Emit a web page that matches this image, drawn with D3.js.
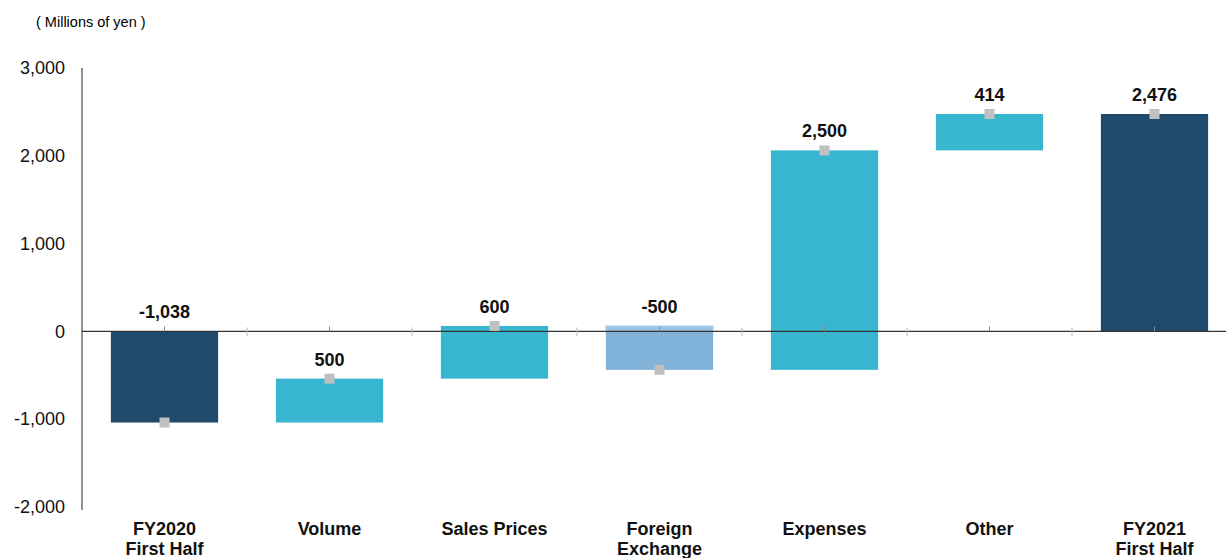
<!DOCTYPE html>
<html>
<head>
<meta charset="utf-8">
<script src="https://cdn.jsdelivr.net/npm/d3@7"></script>
<style>
  body { margin: 0; background: #fff; }
  svg { font-family: "Liberation Sans", Arial, sans-serif; display: block; }
</style>
</head>
<body>
<div id="chart"></div>
<script>
// categorias y valores (millones de yenes)
const categories = ["FY2020\nFirst Half", "Volume", "Sales Prices", "Foreign\nExchange", "Expenses", "Other", "FY2021\nFirst Half"];
const changes = [-1038, 500, 600, -500, 2500, 414, 2476];
const kinds = ["total", "step", "step", "fx", "step", "step", "total"];
const yTicks = [-2000, -1000, 0, 1000, 2000, 3000];

const width = 1226, height = 558;
const fmt = v => d3.format(",")(v).replace("\u2212", "-");

const svg = d3.select("#chart")
  .append("svg")
  .attr("width", width)
  .attr("height", height);

const x = d3.scaleBand()
  .domain(categories)
  .range([82, 1237])
  .paddingInner(0.35)
  .paddingOuter(0.175);

const y = d3.scaleLinear()
  .domain([-2000, 3000])
  .range([507, 68]);

const color = { total: "#1f4a6b", step: "#38b5cf", fx: "#80b2da" };

// construir barras del waterfall
let run = 0;
const bars = categories.map((c, i) => {
  let y0, y1;
  if (kinds[i] === "total") { y0 = 0; y1 = changes[i]; run = changes[i]; }
  else { y0 = run; y1 = run + changes[i]; run = y1; }
  return { cat: c, v: changes[i], kind: kinds[i], y0, y1, end: y1 };
});

// etiqueta unidades
svg.append("text")
  .attr("x", 36).attr("y", 27)
  .attr("font-size", 14.5)
  .text("( Millions of yen )");

// eje y
const yAxis = svg.append("g")
  .attr("transform", "translate(82,0)")
  .call(d3.axisLeft(y).tickValues(yTicks).tickSize(0).tickPadding(17).tickFormat(fmt));
yAxis.select(".domain").attr("stroke", "#222").attr("d", "M0,68V510");
yAxis.selectAll("text").attr("font-size", 18).attr("fill", "#111").attr("font-family", "Liberation Sans, Arial, sans-serif");

// barras
svg.selectAll("rect.bar")
  .data(bars)
  .join("rect")
  .attr("class", "bar")
  .attr("x", d => x(d.cat))
  .attr("width", x.bandwidth())
  .attr("y", d => y(Math.max(d.y0, d.y1)))
  .attr("height", d => Math.abs(y(d.y0) - y(d.y1)))
  .attr("fill", d => color[d.kind]);

// franja clara encima del cero en la barra de tipo de cambio
svg.selectAll("rect.fxtop")
  .data(bars.filter(d => d.kind === "fx" && d.y0 > 0))
  .join("rect")
  .attr("class", "fxtop")
  .attr("x", d => x(d.cat))
  .attr("width", x.bandwidth())
  .attr("y", d => y(d.y0))
  .attr("height", d => y(0) - y(d.y0))
  .attr("fill", "#9cc4e6")
  .attr("stroke", "#b5d3ee").attr("stroke-width", 1);

// linea del cero
svg.append("line")
  .attr("x1", 82).attr("x2", width)
  .attr("y1", y(0)).attr("y2", y(0))
  .attr("stroke", "#333").attr("stroke-width", 1.2);

// marcas en el cero (limites y centros)
svg.selectAll("line.sep")
  .data(categories.slice(1))
  .join("line")
  .attr("class", "sep")
  .attr("x1", d => x(d) - x.step() * x.paddingInner() / 2)
  .attr("x2", d => x(d) - x.step() * x.paddingInner() / 2)
  .attr("y1", y(0) - 4).attr("y2", y(0) + 5)
  .attr("stroke", "#bbb");

svg.selectAll("line.mid")
  .data(categories)
  .join("line")
  .attr("class", "mid")
  .attr("x1", d => x(d) + x.bandwidth() / 2)
  .attr("x2", d => x(d) + x.bandwidth() / 2)
  .attr("y1", y(0) - 5).attr("y2", y(0))
  .attr("stroke", "#888");

// marcadores grises
svg.selectAll("rect.mk")
  .data(bars)
  .join("rect")
  .attr("class", "mk")
  .attr("x", d => x(d.cat) + x.bandwidth() / 2 - 5)
  .attr("y", d => y(d.end) - 5)
  .attr("width", 10).attr("height", 10)
  .attr("fill", "#c0c0c0");

// valores
svg.selectAll("text.val")
  .data(bars)
  .join("text")
  .attr("class", "val")
  .attr("x", d => x(d.cat) + x.bandwidth() / 2)
  .attr("y", d => y(Math.max(d.y0, d.y1)) - 13)
  .attr("text-anchor", "middle")
  .attr("font-size", 18).attr("font-weight", "bold")
  .attr("fill", "#111")
  .text(d => fmt(d.v));

// categorias
const cl = svg.selectAll("text.cat")
  .data(categories)
  .join("text")
  .attr("class", "cat")
  .attr("x", d => x(d) + x.bandwidth() / 2)
  .attr("y", 535)
  .attr("text-anchor", "middle")
  .attr("font-size", 18).attr("font-weight", "bold")
  .attr("fill", "#111");
cl.selectAll("tspan")
  .data(d => d.split("\n"))
  .join("tspan")
  .attr("x", function() { return this.parentNode.getAttribute("x"); })
  .attr("dy", (d, i) => i ? 20 : 0)
  .text(d => d);
</script>
</body>
</html>
